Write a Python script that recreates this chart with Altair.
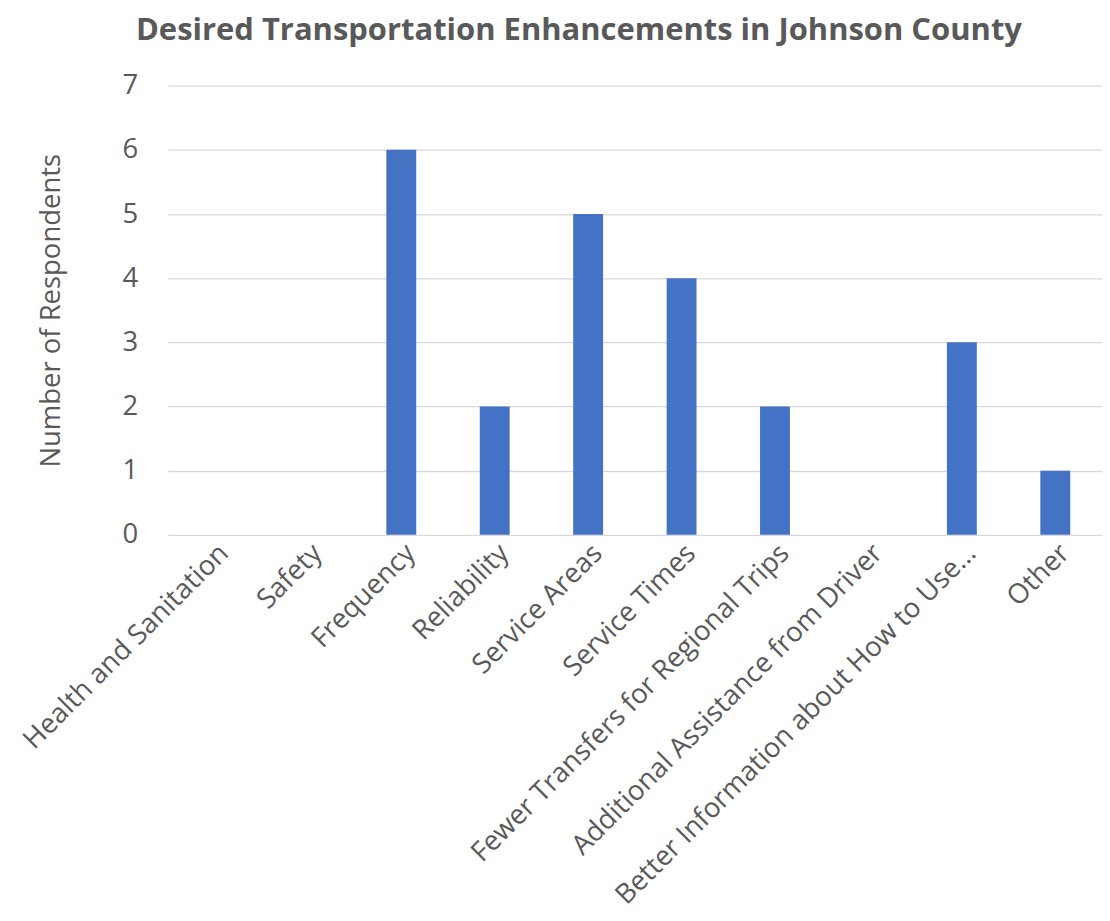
import altair as alt
import pandas as pd

categories = [
    "Health and Sanitation",
    "Safety",
    "Frequency",
    "Reliability",
    "Service Areas",
    "Service Times",
    "Fewer Transfers for Regional Trips",
    "Additional Assistance from Driver",
    "Better Information about How to Use…",
    "Other",
]
values = [0, 0, 6, 2, 5, 4, 2, 0, 3, 1]

df = pd.DataFrame({"category": categories, "respondents": values})

FONT = "Open Sans"
GRAY = "#595959"

chart = (
    alt.Chart(df)
    .mark_bar(color="#4472C4")
    .encode(
        x=alt.X(
            "category:N",
            sort=categories,
            title=None,
            scale=alt.Scale(paddingInner=0.68, paddingOuter=0.34),
            axis=alt.Axis(
                labelAngle=-45,
                labelAlign="right",
                labelBaseline="top",
                labelFontSize=27.5,
                labelColor=GRAY,
                labelFont=FONT,
                labelLimit=500,
                ticks=False,
                domain=False,
                labelPadding=4,
            ),
        ),
        y=alt.Y(
            "respondents:Q",
            scale=alt.Scale(domain=[0, 7]),
            title="Number of Respondents",
            axis=alt.Axis(
                values=[0, 1, 2, 3, 4, 5, 6, 7],
                labelFontSize=27.5,
                labelColor=GRAY,
                labelFont=FONT,
                titleFontSize=27.5,
                titleFont=FONT,
                titleColor=GRAY,
                titleFontWeight="normal",
                titlePadding=57,
                ticks=False,
                domain=False,
                labelPadding=30,
                gridColor="#D9D9D9",
                gridWidth=1.3,
            ),
        ),
    )
    .properties(
        width=936,
        height=450,
        padding={"left": 10, "top": 6, "right": 0, "bottom": 0},
        title=alt.TitleParams(
            "Desired Transportation Enhancements in Johnson County",
            fontSize=31,
            font=FONT,
            fontWeight="bold",
            color=GRAY,
            anchor="middle",
            offset=25,
            dx=-56,
        ),
    )
    .configure_view(stroke=None)
)

chart.save("out.html", embed_options={"renderer": "svg", "actions": False})
